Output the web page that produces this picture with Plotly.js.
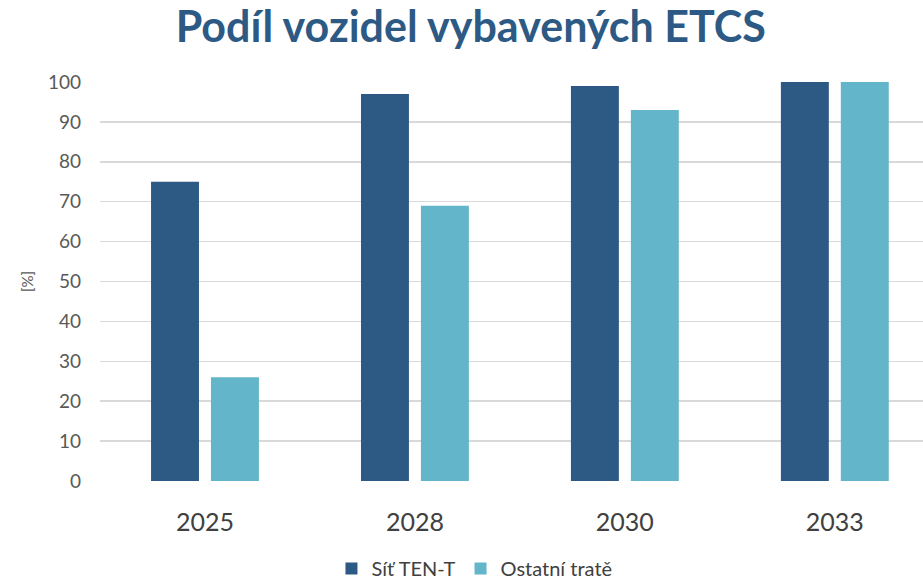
<!DOCTYPE html>
<html>
<head>
<meta charset="utf-8">
<script src="https://cdn.plot.ly/plotly-3.0.1.min.js"></script>
<style>html,body{margin:0;padding:0;background:#fff;}#chart{width:923px;height:580px;}</style>
</head>
<body>
<div id="chart"></div>
<script>
const categories = ["2025", "2028", "2030", "2033"];
const tenT = [75, 97, 99, 100];
const ostatni = [26, 69, 93, 100];
const yTicks = [0, 10, 20, 30, 40, 50, 60, 70, 80, 90, 100];

const traces = [
  {type: "bar", name: "Síť TEN-T", x: categories, y: tenT, marker: {color: "#2D5A84"}, hoverinfo: "y"},
  {type: "bar", name: "Ostatní tratě", x: categories, y: ostatni, marker: {color: "#63B6C9"}, hoverinfo: "y"}
];

const layout = {
  width: 923, height: 580,
  margin: {l: 100, r: 0, t: 82, b: 99},
  paper_bgcolor: "#fff", plot_bgcolor: "#fff",
  font: {family: "Lato, 'Open Sans', sans-serif", color: "#595959"},
  title: {text: "<b>Podíl vozidel vybavených ETCS</b>", x: 0.51, xanchor: "center", y: 0.953, yanchor: "middle",
          font: {size: 43, color: "#2D5A84", family: "Lato, 'Open Sans', sans-serif"}},
  barmode: "group", bargap: 0.429, bargroupgap: 0.2,
  xaxis: {type: "category", range: [-0.5, 3.42], showgrid: false, zeroline: false, showline: false, automargin: false,
          ticks: "", ticklabelstandoff: 24, tickfont: {size: 25, color: "#404040"}, fixedrange: true},
  yaxis: {range: [0, 100], tickvals: yTicks, ticktext: yTicks.map(String), showgrid: true, gridcolor: "#D9D9D9", gridwidth: 1.5,
          zeroline: false, showline: false, ticks: "", ticklabelstandoff: 18, automargin: false, tickfont: {size: 19, color: "#595959"},
          title: {text: "[%]", standoff: 10, font: {size: 15, color: "#595959"}}, fixedrange: true},
  showlegend: true,
  legend: {orientation: "h", x: 0.455, xanchor: "center", yref: "container", y: 0.02, yanchor: "middle", font: {size: 20, color: "#404040"}, traceorder: "normal"}
};

Plotly.newPlot("chart", traces, layout, {displayModeBar: false, staticPlot: true});
</script>
</body>
</html>
